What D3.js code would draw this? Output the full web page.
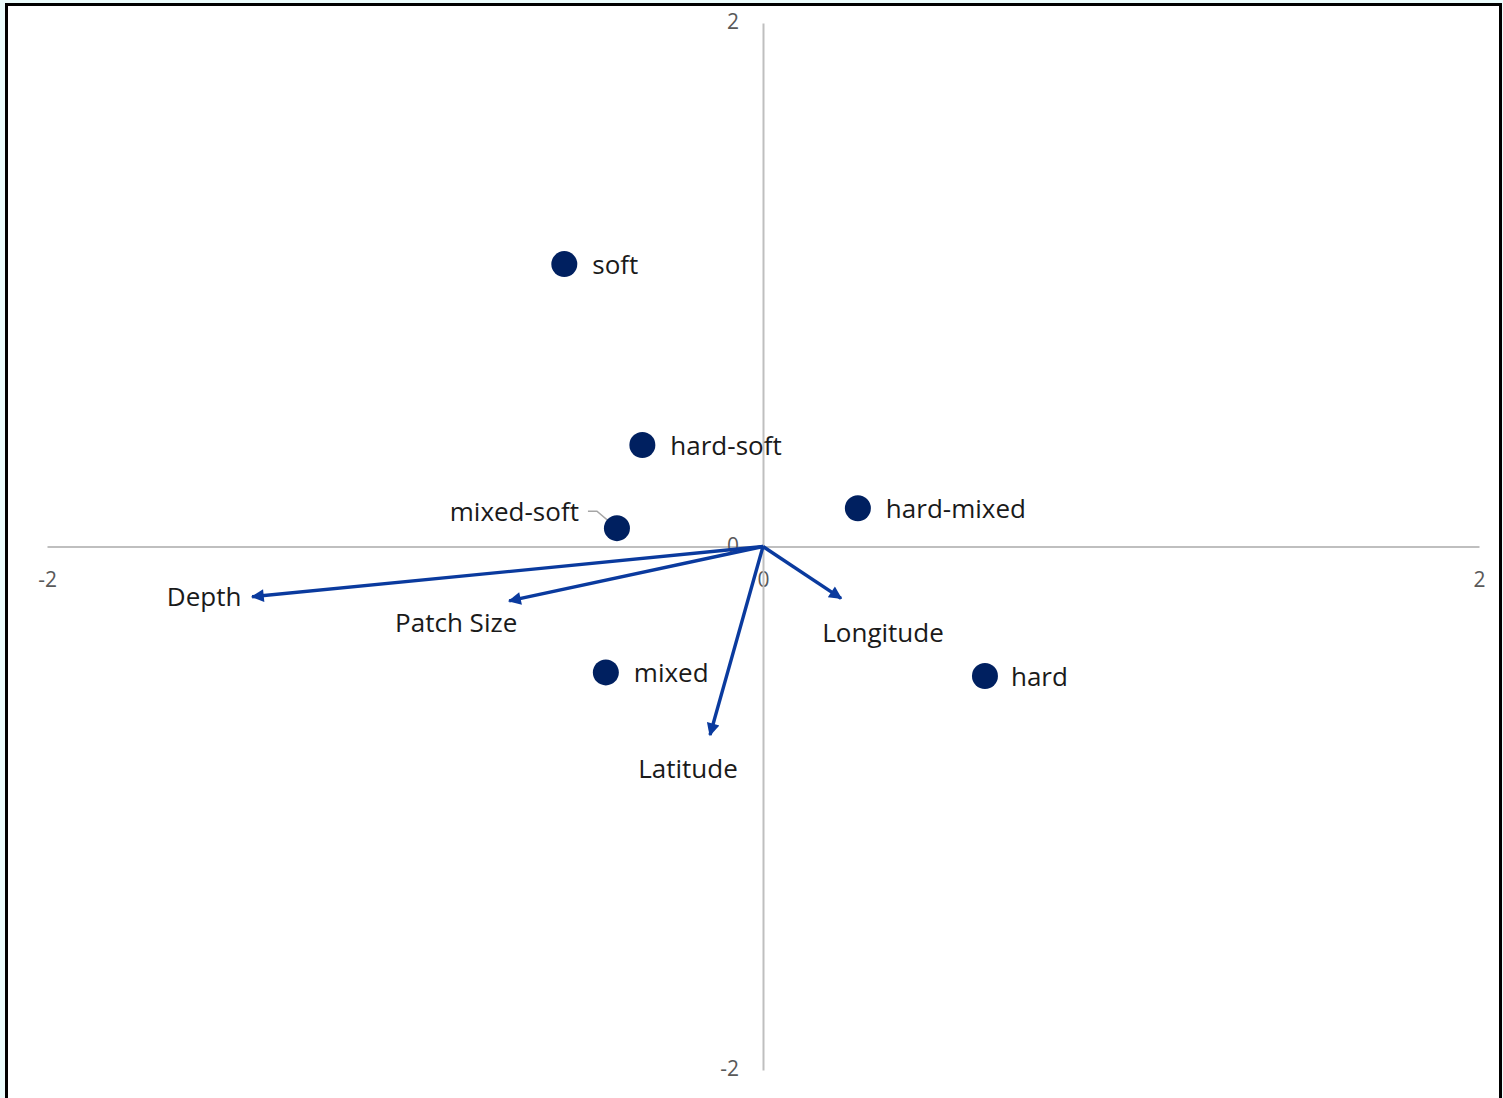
<!DOCTYPE html>
<html>
<head>
<meta charset="utf-8">
<script src="https://cdn.jsdelivr.net/npm/d3@7"></script>
<style>
  html, body { margin: 0; padding: 0; background: #ebfcfc; }
  svg { display: block; }
</style>
</head>
<body>
<svg id="chart" width="1503" height="1098"></svg>
<script>
// Site scores by substrate class
const siteNames = ["soft", "hard-soft", "mixed-soft", "hard-mixed", "mixed", "hard"];
const siteX = [-0.555, -0.337, -0.408, 0.265, -0.439, 0.620];
const siteY = [1.079, 0.388, 0.070, 0.146, -0.481, -0.495];

// Environmental variable loadings (arrows from origin)
const varNames = ["Depth", "Patch Size", "Latitude", "Longitude"];
const varX = [-1.427, -0.709, -0.148, 0.218];
const varY = [-0.192, -0.208, -0.720, -0.198];

// Axis ticks
const xTicks = [-2, 0, 2];
const yTicks = [-2, 0, 2];

// Label placement (pixel offsets from the mark)
const siteLabelLayout = {
  "soft": { dx: 28, dy: 0, anchor: "start" },
  "hard-soft": { dx: 28, dy: 0, anchor: "start" },
  "mixed-soft": { dx: -38, dy: -17, anchor: "end", leader: true },
  "hard-mixed": { dx: 28, dy: 0, anchor: "start" },
  "mixed": { dx: 28, dy: 0, anchor: "start" },
  "hard": { dx: 26, dy: 0, anchor: "start" }
};
const varLabelLayout = {
  "Depth": { dx: -48, dy: 0 },
  "Patch Size": { dx: -53, dy: 22 },
  "Latitude": { dx: -22, dy: 34 },
  "Longitude": { dx: 42, dy: 35 }
};

const svg = d3.select("#chart");
const W = 1503, H = 1098;

// Frame
svg.append("rect").attr("x", 0).attr("y", 0).attr("width", W).attr("height", H).attr("fill", "#ebfcfc");
svg.append("rect").attr("x", 6.5).attr("y", 4.5).attr("width", 1494).attr("height", 1100)
  .attr("fill", "#ffffff").attr("stroke", "#000000").attr("stroke-width", 3);

const x = d3.scaleLinear().domain([-2, 2]).range([47, 1479]);
const y = d3.scaleLinear().domain([-2, 2]).range([1070, 23]);

const tickFont = "'Open Sans', 'Noto Sans', sans-serif";
const labelFont = "'Open Sans', 'Noto Sans', sans-serif";

// Axis lines through the origin
const xAxis = d3.axisBottom(x).tickValues(xTicks).tickSize(0).tickFormat(d => String(d));
const gx = svg.append("g").attr("transform", `translate(0,${y(0)})`).call(xAxis);
gx.select(".domain").attr("stroke", "#bfbfbf").attr("stroke-width", 2);
gx.selectAll("text").attr("fill", "#595959").attr("font-size", 21)
  .attr("font-family", tickFont)
  .attr("dy", null).attr("y", 35).attr("dominant-baseline", "middle");

const yAxis = d3.axisLeft(y).tickValues(yTicks).tickSize(0).tickFormat(d => String(d));
const gy = svg.append("g").attr("transform", `translate(${x(0)},0)`).call(yAxis);
gy.select(".domain").attr("stroke", "#bfbfbf").attr("stroke-width", 2);
gy.selectAll("text").attr("fill", "#595959").attr("font-size", 21)
  .attr("font-family", tickFont)
  .attr("x", -24).attr("dy", null).attr("dominant-baseline", "middle");

// Arrowhead marker
const defs = svg.append("defs");
defs.append("marker").attr("id", "arrow")
  .attr("viewBox", "0 0 10 10").attr("refX", 9).attr("refY", 5)
  .attr("markerWidth", 4.4).attr("markerHeight", 3.8)
  .attr("orient", "auto-start-reverse").attr("markerUnits", "strokeWidth")
  .append("path").attr("d", "M0,0 L10,5 L0,10 Z").attr("fill", "#0a3a9e");

// Loading arrows
const vars = varNames.map((n, i) => ({ name: n, x: varX[i], y: varY[i] }));
svg.append("g").selectAll("line").data(vars).join("line")
  .attr("x1", x(0)).attr("y1", y(0))
  .attr("x2", d => x(d.x)).attr("y2", d => y(d.y))
  .attr("stroke", "#0a3a9e").attr("stroke-width", 3.4)
  .attr("marker-end", "url(#arrow)");

svg.append("g").selectAll("text").data(vars).join("text")
  .attr("x", d => x(d.x) + varLabelLayout[d.name].dx)
  .attr("y", d => y(d.y) + varLabelLayout[d.name].dy + 2)
  .attr("text-anchor", "middle").attr("dominant-baseline", "middle")
  .attr("font-family", labelFont).attr("font-size", 26).attr("fill", "#1a1a1a")
  .text(d => d.name);

// Site points
const sites = siteNames.map((n, i) => ({ name: n, x: siteX[i], y: siteY[i] }));

// Leader lines for offset labels
sites.filter(d => siteLabelLayout[d.name].leader).forEach(d => {
  const L = siteLabelLayout[d.name];
  const cx = x(d.x), cy = y(d.y);
  svg.append("path")
    .attr("d", `M${cx + L.dx + 9},${cy + L.dy} L${cx + L.dx + 18},${cy + L.dy} L${cx},${cy}`)
    .attr("fill", "none").attr("stroke", "#a6a6a6").attr("stroke-width", 1.5);
});

svg.append("g").selectAll("circle").data(sites).join("circle")
  .attr("cx", d => x(d.x)).attr("cy", d => y(d.y)).attr("r", 13)
  .attr("fill", "#002060");

svg.append("g").selectAll("text").data(sites).join("text")
  .attr("x", d => x(d.x) + siteLabelLayout[d.name].dx)
  .attr("y", d => y(d.y) + siteLabelLayout[d.name].dy + 3)
  .attr("text-anchor", d => siteLabelLayout[d.name].anchor)
  .attr("dominant-baseline", "middle")
  .attr("font-family", labelFont).attr("font-size", 26).attr("fill", "#1a1a1a")
  .text(d => d.name);
</script>
</body>
</html>
